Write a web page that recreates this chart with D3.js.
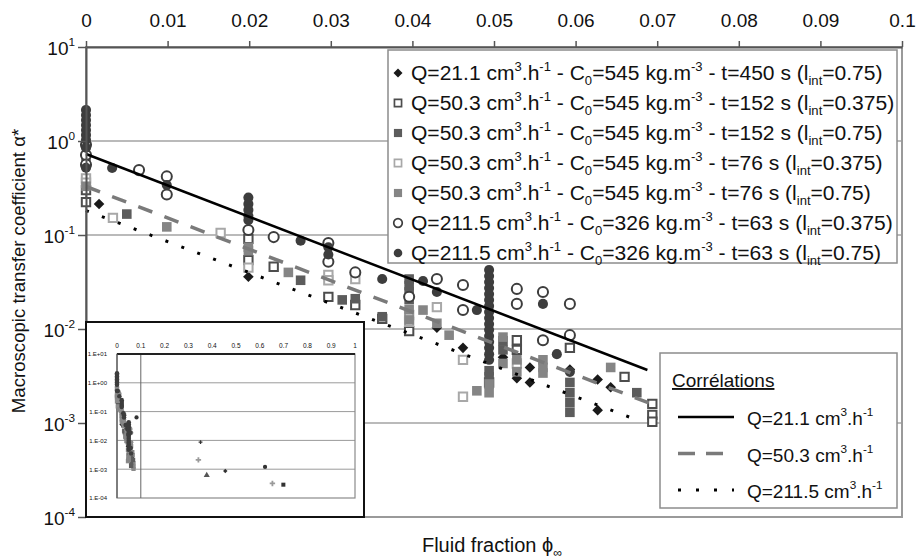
<!DOCTYPE html>
<html>
<head>
<meta charset="utf-8">
<script src="https://cdn.jsdelivr.net/npm/d3@7"></script>
<style>
  body { margin: 0; background: #fff; }
  text { font-family: "Liberation Sans", Arial, sans-serif; fill: #111; }
</style>
</head>
<body>
<svg id="chart" width="919" height="560"></svg>
<script>
// ---- values ----
const phiTicks = [0, 0.01, 0.02, 0.03, 0.04, 0.05, 0.06, 0.07, 0.08, 0.09, 0.1]
const alphaTicks = [10, 1, 0.1, 0.01, 0.001, 0.0001]
const alphaExponents = ["1", "0", "-1", "-2", "-3", "-4"]
const insetPhiTicks = [0, 0.1, 0.2, 0.3, 0.4, 0.5, 0.6, 0.7, 0.8, 0.9, 1]
const insetAlphaLabels = ["1.E+01", "1.E+00", "1.E-01", "1.E-02", "1.E-03", "1.E-04"]

const flowRates = ["21.1", "50.3", "50.3", "50.3", "50.3", "211.5", "211.5"]
const concentrations = ["545", "545", "545", "545", "545", "326", "326"]
const times = ["450", "152", "152", "76", "76", "63", "63"]
const lintValues = ["0.75", "0.375", "0.75", "0.375", "0.75", "0.375", "0.75"]

// [phi, alpha*]
const q21t450l075 = [
  [0.0016, 0.214], [0.0199, 0.036], [0.043, 0.0103], [0.0462, 0.0063], [0.0511, 0.005],
  [0.0528, 0.003], [0.0544, 0.0039], [0.0544, 0.0027], [0.0593, 0.0037], [0.0627, 0.0029],
  [0.0643, 0.0024], [0.0627, 0.00137]
]
const q50t152l0375 = [
  [0, 0.224], [0, 0.3], [0.0199, 0.091], [0.0199, 0.054], [0.023, 0.046], [0.0297, 0.022],
  [0.033, 0.018], [0.0363, 0.0128], [0.0396, 0.0095], [0.0494, 0.0027], [0.0528, 0.0076],
  [0.0528, 0.006], [0.0593, 0.0063], [0.066, 0.0031], [0.0694, 0.0016], [0.0694, 0.00122],
  [0.0694, 0.00103]
]
const q50t152l075 = [
  [0, 0.63], [0.005, 0.167], [0.0263, 0.033], [0.0314, 0.0204], [0.033, 0.021], [0.0363, 0.0135],
  [0.0396, 0.034], [0.0396, 0.029], [0.0396, 0.0248], [0.0396, 0.0205], [0.0494, 0.0036],
  [0.0494, 0.0031], [0.0511, 0.0075], [0.0511, 0.006], [0.0593, 0.0027], [0.0593, 0.0021],
  [0.0593, 0.00165], [0.0593, 0.0013], [0.0675, 0.0021]
]
const q50t76l0375 = [
  [0, 0.4], [0, 0.36], [0.0033, 0.152], [0.0165, 0.105], [0.0199, 0.045], [0.0297, 0.0375],
  [0.0297, 0.033], [0.033, 0.034], [0.0396, 0.0141], [0.0396, 0.0119], [0.043, 0.0171],
  [0.0462, 0.0047], [0.0462, 0.0019], [0.0528, 0.0043]
]
const q50t76l075 = [
  [0, 0.33], [0.0099, 0.122], [0.0199, 0.074], [0.0199, 0.068], [0.0248, 0.04], [0.0396, 0.016],
  [0.0396, 0.0125], [0.0413, 0.0159], [0.043, 0.0115], [0.0445, 0.0086], [0.0479, 0.0022],
  [0.0494, 0.0026], [0.0494, 0.0021], [0.0511, 0.0082], [0.0511, 0.0043], [0.0528, 0.0047],
  [0.0528, 0.0035], [0.056, 0.0047], [0.056, 0.0039], [0.056, 0.0034], [0.0643, 0.0039]
]
const q211l0375 = [
  [0, 0.91], [0, 0.71], [0, 0.56], [0.0065, 0.49], [0.0099, 0.42], [0.0099, 0.27], [0.0199, 0.113],
  [0.023, 0.095], [0.0297, 0.082], [0.0297, 0.052], [0.033, 0.04], [0.0396, 0.022], [0.043, 0.034],
  [0.0462, 0.0294], [0.0462, 0.0159], [0.0528, 0.0267], [0.0528, 0.0185], [0.056, 0.0248],
  [0.056, 0.0076], [0.0593, 0.0185], [0.0593, 0.0086]
]
const q211l075 = [
  [0, 2.14], [0, 1.89], [0, 1.67], [0, 1.48], [0, 1.31], [0, 1.16], [0, 1.03], [0, 0.85], [0, 0.52],
  [0.0032, 0.516], [0.0099, 0.34], [0.0199, 0.25], [0.0199, 0.214], [0.0199, 0.185], [0.0199, 0.16],
  [0.0199, 0.144], [0.0263, 0.087], [0.0297, 0.074], [0.0297, 0.062], [0.0363, 0.034],
  [0.0413, 0.0324], [0.043, 0.0248], [0.0479, 0.0159],
  [0.0494, 0.0425], [0.0494, 0.0366], [0.0494, 0.0316], [0.0494, 0.0273], [0.0494, 0.0236],
  [0.0494, 0.0204], [0.0494, 0.0176], [0.0494, 0.0152], [0.0494, 0.0131], [0.0494, 0.0113],
  [0.0494, 0.0098], [0.0494, 0.0084], [0.0494, 0.0073], [0.0494, 0.0063], [0.0494, 0.0054],
  [0.0494, 0.0047], [0.056, 0.0185], [0.0577, 0.0054], [0.0593, 0.0035]
]

// correlations: end points of each straight line (log scale)
const corrFlow = ["21.1", "50.3", "211.5"]
const corrQ21 = [[0, 0.727], [0.0688, 0.00366]]
const corrQ50 = [[0, 0.328], [0.069, 0.00163]]
const corrQ211 = [[0, 0.182], [0.0681, 0.00103]]

// extra points only present in the inset
const insetExtra = [
  [0.082, 0.063], [0.351, 0.0087], [0.342, 0.0021], [0.377, 0.00062],
  [0.455, 0.00087], [0.622, 0.0012], [0.653, 0.00032], [0.699, 0.00029]
]
const insetExtraShapes = ["circle", "plus", "plusLight", "triangle", "diamond", "circle", "plusLight", "square"]

// ---- layout & styles ----
const seriesData = [q21t450l075, q50t152l0375, q50t152l075, q50t76l0375, q50t76l075, q211l0375, q211l075]
const seriesStyle = [
  { shape: "diamond", fill: "#1a1a1a", stroke: "none", sw: 0 },
  { shape: "square", fill: "#fff", stroke: "#4d4d4d", sw: 2 },
  { shape: "square", fill: "#5c5c5c", stroke: "none", sw: 0 },
  { shape: "square", fill: "#fff", stroke: "#a8a8a8", sw: 2 },
  { shape: "square", fill: "#858585", stroke: "none", sw: 0 },
  { shape: "circle", fill: "#fff", stroke: "#3d3d3d", sw: 2 },
  { shape: "circle", fill: "#3d3d3d", stroke: "none", sw: 0 }
]

const svg = d3.select("#chart")
const plot = { left: 86, right: 902, top: 47, bottom: 517 }

const x = d3.scaleLinear().domain([0, 0.1]).range([plot.left, plot.right])
const y = d3.scaleLog().domain([1e-4, 10]).range([plot.bottom, plot.top])

// rich text helper: parts = [[text, "" | "sup" | "sub"], ...]
const richText = (textSel, parts, base) => {
  let off = 0
  parts.forEach(([t, kind]) => {
    const target = kind === "sup" ? -base * 0.45 : kind === "sub" ? base * 0.25 : 0
    textSel.append("tspan")
      .attr("dy", target - off)
      .attr("font-size", kind ? base * 0.62 : base)
      .text(t)
    off = target
  })
}

const shapePath = (shape, size) => {
  if (shape === "circle") return d3.symbol(d3.symbolCircle, size)()
  if (shape === "triangle") return d3.symbol(d3.symbolTriangle, size)()
  if (shape === "plus" || shape === "plusLight") return d3.symbol(d3.symbolCross, size)()
  return d3.symbol(d3.symbolSquare, size)()
}

const drawMarker = (g, st, cx, cy, scale) => {
  const size = st.shape === "circle" ? 80 : st.shape === "diamond" ? 56 : st.sw ? 70 : 92
  g.append("path")
    .attr("d", shapePath(st.shape, size * scale * scale))
    .attr("transform", `translate(${cx},${cy})` + (st.shape === "diamond" ? " rotate(45)" : ""))
    .attr("fill", st.fill)
    .attr("stroke", st.stroke)
    .attr("stroke-width", st.sw * scale)
}

// gridlines
svg.append("g")
  .selectAll("line")
  .data(alphaTicks.slice(1, -1))
  .join("line")
  .attr("x1", plot.left).attr("x2", plot.right)
  .attr("y1", (d) => y(d)).attr("y2", (d) => y(d))
  .attr("stroke", "#a3a3a3").attr("stroke-width", 1.5)

// plot frame
svg.append("rect")
  .attr("x", plot.left).attr("y", plot.top)
  .attr("width", plot.right - plot.left).attr("height", plot.bottom - plot.top)
  .attr("fill", "none").attr("stroke", "#9a9a9a").attr("stroke-width", 2)

// data points
const pts = svg.append("g")
seriesData.forEach((data, i) => {
  data.forEach((d) => drawMarker(pts, seriesStyle[i], x(d[0]), y(d[1]), 1))
})

// correlation lines
const line = d3.line().x((d) => x(d[0])).y((d) => y(d[1]))
const corrStyle = [
  { stroke: "#000", sw: 2.5, dash: null },
  { stroke: "#7a7a7a", sw: 3.5, dash: "15,13" },
  { stroke: "#000", sw: 3, dash: "3,14" }
]
;[corrQ21, corrQ50, corrQ211].forEach((d, i) => {
  svg.append("path")
    .attr("d", line(d))
    .attr("fill", "none")
    .attr("stroke", corrStyle[i].stroke)
    .attr("stroke-width", corrStyle[i].sw)
    .attr("stroke-dasharray", corrStyle[i].dash)
})

// top axis
const xAxis = d3.axisTop(x).tickValues(phiTicks).tickSize(6).tickSizeOuter(0).tickPadding(14)
  .tickFormat((d) => d3.format("~g")(d))
const gx = svg.append("g").attr("transform", `translate(0,${plot.top})`).call(xAxis)
gx.select(".domain").attr("stroke", "#555").attr("stroke-width", 2)
gx.selectAll(".tick line").attr("stroke", "#555").attr("stroke-width", 1.5)
gx.selectAll(".tick text").attr("font-size", 19).attr("font-family", null).attr("fill", "#1a1a1a")

// left axis
const yAxis = d3.axisLeft(y).tickValues(alphaTicks).tickSize(8).tickSizeOuter(0).tickFormat("")
const gy = svg.append("g").attr("transform", `translate(${plot.left},0)`).call(yAxis)
gy.select(".domain").attr("stroke", "#555").attr("stroke-width", 2)
gy.selectAll(".tick line").attr("stroke", "#555").attr("stroke-width", 1.5)
gy.selectAll(".tick").each(function (d, i) {
  const t = d3.select(this).append("text")
    .attr("x", -11).attr("y", 7).attr("text-anchor", "end").attr("fill", "#1a1a1a")
  richText(t, [["10", ""], [alphaExponents[i], "sup"]], 19)
})

// axis titles
svg.append("text")
  .attr("transform", "translate(25,271) rotate(-90)")
  .attr("text-anchor", "middle").attr("font-size", 18.6)
  .text("Macroscopic transfer coefficient α*")
const xt = svg.append("text").attr("x", 492).attr("y", 552).attr("text-anchor", "middle")
richText(xt, [["Fluid fraction ϕ", ""], ["∞", "sub"]], 20)

// main legend (text is a little wider than plain Arial in the source)
const leg = svg.append("g")
leg.append("rect").attr("x", 388).attr("y", 50).attr("width", 509).attr("height", 213)
  .attr("fill", "#fff").attr("stroke", "#8c8c8c").attr("stroke-width", 1.5)
flowRates.forEach((q, i) => {
  const cy = 73 + i * 30
  drawMarker(leg, seriesStyle[i], 398, cy, 0.85)
  const t = leg.append("text").attr("transform", `translate(411,${cy + 7}) scale(1.08,1)`)
  richText(t, [
    [`Q=${q} cm`, ""], ["3", "sup"], [".h", ""], ["-1", "sup"], [" - C", ""], ["0", "sub"],
    [`=${concentrations[i]} kg.m`, ""], ["-3", "sup"], [` - t=${times[i]} s (l`, ""], ["int", "sub"],
    [`=${lintValues[i]})`, ""]
  ], 19.5)
})

// correlations legend
const cleg = svg.append("g")
cleg.append("rect").attr("x", 660).attr("y", 353).attr("width", 237).attr("height", 155)
  .attr("fill", "#fff").attr("stroke", "#8c8c8c").attr("stroke-width", 1.5)
cleg.append("text").attr("x", 672).attr("y", 387).attr("font-size", 19)
  .attr("text-decoration", "underline").text("Corrélations")
corrFlow.forEach((q, i) => {
  const cy = 417 + i * 36.5
  cleg.append("line").attr("x1", 678).attr("x2", 734).attr("y1", cy).attr("y2", cy)
    .attr("stroke", corrStyle[i].stroke).attr("stroke-width", corrStyle[i].sw)
    .attr("stroke-dasharray", i === 1 ? "17,11" : i === 2 ? "3,15" : null)
  const t = cleg.append("text").attr("x", 747).attr("y", cy + 8)
  richText(t, [[`Q=${q} cm`, ""], ["3", "sup"], [".h", ""], ["-1", "sup"]], 19)
})

// ---- inset ----
const inset = svg.append("g")
inset.append("rect").attr("x", 86).attr("y", 322).attr("width", 278).attr("height", 195)
  .attr("fill", "#fff").attr("stroke", "#111").attr("stroke-width", 2)
const xi = d3.scaleLinear().domain([0, 1]).range([117, 355])
const yi = d3.scaleLog().domain([1e-4, 10]).range([498, 354])
inset.append("g").selectAll("line")
  .data(alphaTicks.slice(1, -1))
  .join("line")
  .attr("x1", xi(0)).attr("x2", xi(1))
  .attr("y1", (d) => yi(d)).attr("y2", (d) => yi(d))
  .attr("stroke", "#9a9a9a").attr("stroke-width", 1)
inset.append("rect").attr("x", xi(0)).attr("y", yi(10))
  .attr("width", xi(1) - xi(0)).attr("height", yi(1e-4) - yi(10))
  .attr("fill", "none").attr("stroke", "#8a8a8a").attr("stroke-width", 1.2)
inset.append("line").attr("x1", xi(0.1)).attr("x2", xi(0.1)).attr("y1", yi(10)).attr("y2", yi(1e-4))
  .attr("stroke", "#666").attr("stroke-width", 1)
inset.append("line").attr("x1", xi(0)).attr("x2", xi(1)).attr("y1", yi(10)).attr("y2", yi(10))
  .attr("stroke", "#222").attr("stroke-width", 1.8)
inset.append("line").attr("x1", xi(0)).attr("x2", xi(0)).attr("y1", yi(10)).attr("y2", yi(1e-4))
  .attr("stroke", "#555").attr("stroke-width", 1.2)

inset.append("g").selectAll("text")
  .data(insetPhiTicks)
  .join("text")
  .attr("x", (d) => xi(d)).attr("y", 348).attr("text-anchor", "middle")
  .attr("font-size", 6.5).attr("fill", "#444")
  .text((d) => d3.format("~g")(d))
inset.append("g").selectAll("text")
  .data(alphaTicks)
  .join("text")
  .attr("x", 107).attr("y", (d) => yi(d) + 2.3).attr("text-anchor", "end")
  .attr("font-size", 6).attr("fill", "#444")
  .text((d, i) => insetAlphaLabels[i])

const ipts = inset.append("g")
seriesData.forEach((data, i) => {
  const st = seriesStyle[i]
  const small = { shape: st.shape, fill: st.sw ? "#8a8a8a" : st.fill, stroke: "none", sw: 0 }
  data.forEach((d) => drawMarker(ipts, small, xi(d[0]), yi(d[1]), 0.45))
})
insetExtra.forEach((d, i) => {
  const shape = insetExtraShapes[i]
  const st = {
    shape: shape === "plusLight" ? "plus" : shape,
    fill: shape === "plusLight" ? "#9a9a9a" : shape === "triangle" ? "#555" : "#333",
    stroke: "none", sw: 0
  }
  drawMarker(ipts, st, xi(d[0]), yi(d[1]), shape === "plus" ? 0.3 : 0.42)
})
</script>
</body>
</html>
